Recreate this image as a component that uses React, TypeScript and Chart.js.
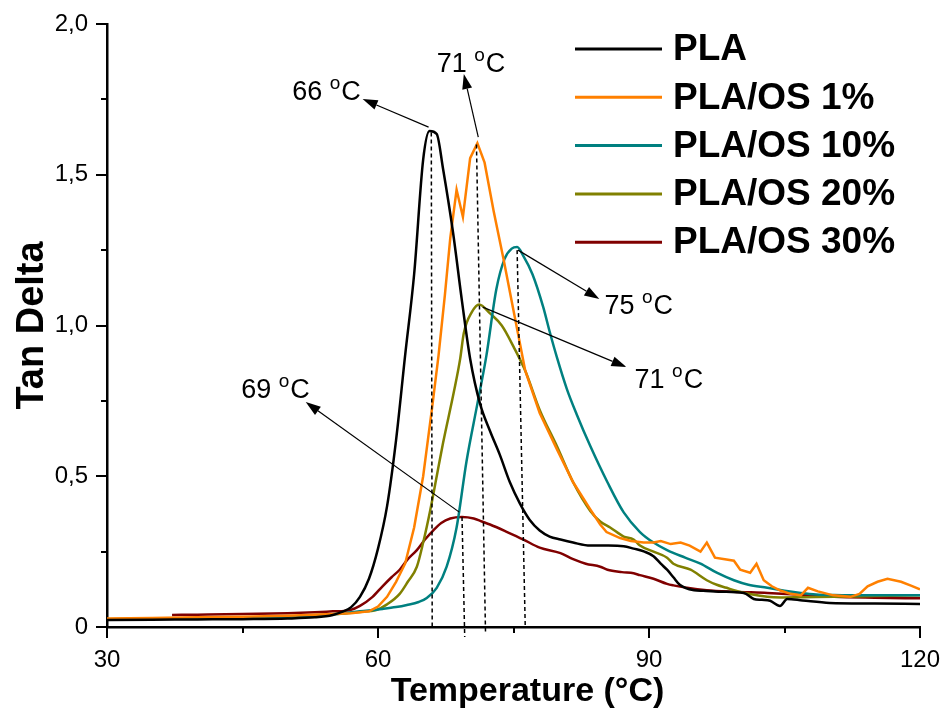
import React, { useEffect, useRef } from 'react';
import { Chart, registerables } from 'chart.js';

Chart.register(...registerables);

// ---------- DATA ----------
const SERIES_NAMES = ['PLA', 'PLA/OS 1%', 'PLA/OS 10%', 'PLA/OS 20%', 'PLA/OS 30%'];
const SERIES_COLORS = ['#000000', '#FF8000', '#008080', '#808000', '#800000'];

const plaT = [30, 35, 40, 45, 50, 53, 55, 56, 57, 58, 59, 60, 61, 62, 63, 64, 65, 65.7, 66.5, 67.2, 68.3, 69.3, 70.2, 71.3, 72.4, 73.5, 74.6, 75.7, 76.8, 77.9, 79, 80.2, 81.6, 83.5, 85.5, 87.2, 88.3, 89.5, 90.5, 91.3, 92, 92.7, 93.4, 94, 95, 96, 98, 100.5, 101.6, 102.5, 103.4, 104.5, 105.3, 107, 110, 115, 120];
const plaV = [0.023, 0.024, 0.025, 0.026, 0.028, 0.032, 0.04, 0.05, 0.065, 0.1, 0.16, 0.26, 0.4, 0.62, 0.9, 1.17, 1.55, 1.645, 1.635, 1.52, 1.31, 1.08, 0.89, 0.74, 0.65, 0.57, 0.48, 0.41, 0.355, 0.32, 0.3, 0.29, 0.28, 0.27, 0.27, 0.268, 0.26, 0.25, 0.235, 0.21, 0.19, 0.165, 0.14, 0.13, 0.122, 0.12, 0.117, 0.113, 0.093, 0.09, 0.087, 0.07, 0.093, 0.088, 0.08, 0.078, 0.076];

const os1T = [30, 35, 40, 45, 50, 55, 57, 58, 59, 60, 61, 62, 63, 64, 65, 66, 66.7, 67.4, 68, 68.7, 69.4, 70.2, 71, 71.8, 72.8, 73.9, 75, 76.3, 77.9, 79.8, 81.6, 83.5, 84.6, 85.3, 86.8, 88, 89.4, 90.5, 91.3, 92.4, 93.5, 94.5, 95.7, 96.4, 97.3, 98.4, 99.4, 100.1, 101.2, 101.9, 102.7, 103.6, 104.6, 105.7, 106.8, 107.6, 108.7, 110.4, 112.3, 113.3, 114.2, 115.3, 116.4, 117.9, 119, 120];
const os1V = [0.028, 0.03, 0.032, 0.034, 0.037, 0.043, 0.046, 0.049, 0.052, 0.068, 0.1, 0.15, 0.21, 0.33, 0.5, 0.73, 0.9, 1.1, 1.29, 1.45, 1.36, 1.555, 1.605, 1.54, 1.38, 1.22, 1.05, 0.85, 0.71, 0.59, 0.48, 0.39, 0.34, 0.315, 0.295, 0.285, 0.28, 0.28, 0.285, 0.275, 0.28, 0.27, 0.25, 0.28, 0.23, 0.225, 0.22, 0.19, 0.18, 0.21, 0.155, 0.135, 0.12, 0.11, 0.105, 0.13, 0.118, 0.105, 0.1, 0.11, 0.135, 0.15, 0.16, 0.15, 0.137, 0.125];

const os10T = [30, 35, 40, 45, 50, 55, 58, 60.5, 62, 63.2, 64.5, 65.4, 66.5, 67.6, 68.7, 69.8, 71, 72, 73.1, 74, 74.8, 75.4, 76.1, 77.1, 78.3, 79, 79.8, 80.9, 82, 83.5, 85.4, 87.2, 89, 90.5, 92, 94, 95.7, 97.5, 99.4, 101, 103.1, 105, 106.8, 108.5, 110.5, 115, 120];
const os10V = [0.025, 0.027, 0.029, 0.031, 0.034, 0.042, 0.052, 0.06, 0.066, 0.073, 0.083, 0.096, 0.13, 0.2, 0.33, 0.55, 0.74, 0.9, 1.12, 1.22, 1.255, 1.26, 1.23, 1.17, 1.06, 0.98, 0.895, 0.79, 0.705, 0.6, 0.48, 0.38, 0.315, 0.28, 0.255, 0.23, 0.21, 0.18, 0.155, 0.14, 0.13, 0.12, 0.113, 0.108, 0.106, 0.105, 0.105];

const os20T = [30, 35, 40, 45, 50, 55, 58, 59.8, 61, 62.4, 63.3, 64.3, 65, 65.8, 66.5, 67.2, 68.4, 69.1, 69.5, 70.4, 71.2, 72.4, 73.7, 75, 76.3, 77.9, 79.8, 81.6, 83.5, 84.6, 85.7, 87.2, 88.3, 89, 90.5, 92, 92.7, 94.6, 96.4, 97.5, 98.6, 99.4, 101, 103.1, 104.6, 107, 110.5, 115, 120];
const os20V = [0.026, 0.028, 0.03, 0.032, 0.035, 0.042, 0.05, 0.056, 0.075, 0.11, 0.15, 0.2, 0.28, 0.39, 0.5, 0.61, 0.78, 0.89, 0.975, 1.045, 1.07, 1.04, 1.0, 0.93, 0.85, 0.72, 0.6, 0.48, 0.385, 0.35, 0.33, 0.3, 0.29, 0.27, 0.25, 0.23, 0.21, 0.19, 0.155, 0.14, 0.13, 0.122, 0.11, 0.1, 0.098, 0.099, 0.1, 0.103, 0.105];

const os30T = [37.2, 40, 45, 50, 53, 55, 56.9, 58, 59.4, 60.5, 61.5, 62.4, 63.3, 64.3, 65.2, 66.1, 67, 68, 69.3, 70.6, 71.5, 72.4, 74.3, 76.1, 77.9, 80.2, 81.6, 83, 84.6, 85.4, 87, 88.3, 89, 90.5, 92, 92.7, 94.2, 96.4, 99.4, 103.1, 106.8, 110.5, 115, 120];
const os30V = [0.04, 0.041, 0.043, 0.046, 0.049, 0.052, 0.056, 0.07, 0.1, 0.135, 0.165, 0.19, 0.225, 0.255, 0.29, 0.32, 0.345, 0.36, 0.365, 0.36, 0.35, 0.34, 0.315, 0.29, 0.263, 0.245, 0.225, 0.21, 0.2, 0.19, 0.182, 0.178, 0.172, 0.16, 0.143, 0.138, 0.13, 0.122, 0.117, 0.113, 0.107, 0.1, 0.097, 0.095];

const SERIES_T = [plaT, os1T, os10T, os20T, os30T];
const SERIES_V = [plaV, os1V, os10V, os20V, os30V];
// orange trace is noisy (straight segments); the others are smooth
const SERIES_SMOOTH = [true, false, true, true, true];

const X_MIN = 30;
const X_MAX = 120;
const X_STEP = 15;
const X_LABEL_STEP = 30;
const Y_MIN = 0;
const Y_MAX = 2;
const Y_STEP = 0.25;
const Y_LABEL_STEP = 0.5;

const X_TITLE = 'Temperature (°C)';
const Y_TITLE = 'Tan Delta';

// Peak annotations (data coordinates): arrow start, arrow tip, label centre, label text
const PEAK_TEXT = ['66', '71', '75', '71', '69'];
const ARROW_FROM_T = [65.6, 71.1, 75.5, 71.6, 69.0];
const ARROW_FROM_V = [1.658, 1.625, 1.25, 1.061, 0.381];
const ARROW_TO_T = [58.3, 69.5, 84.5, 87.5, 52.0];
const ARROW_TO_V = [1.751, 1.834, 1.088, 0.862, 0.746];
const LABEL_T = [54.3, 70.3, 88.86, 92.2, 48.66];
const LABEL_V = [1.781, 1.874, 1.071, 0.826, 0.793];

// Dashed drop lines from peaks to the axis
const DROP_FROM_T = [65.9, 70.9, 75.4, 69.3];
const DROP_FROM_V = [1.64, 1.6, 1.25, 0.365];
const DROP_TO_T = [66.0, 71.9, 76.3, 69.6];
const DROP_TO_V = [0, -0.015, 0, -0.033];

const FONT = 'Arial, "Liberation Sans", sans-serif';

const fmtY = (v: number) => {
  if (Math.abs(v) < 1e-9) return '0';
  return v.toFixed(1).replace('.', ',');
};

const decorPlugin = {
  id: 'decor',
  afterDraw(chart: any) {
    const { ctx, chartArea, scales } = chart;
    const xs = scales.x;
    const ys = scales.y;
    const px = (t: number) => xs.getPixelForValue(t);
    const py = (v: number) => ys.getPixelForValue(v);
    ctx.save();

    // tick marks (outward)
    ctx.strokeStyle = '#000';
    ctx.lineWidth = 2;
    for (let v = Y_MIN; v <= Y_MAX + 1e-9; v += Y_STEP) {
      const major = Math.abs(v / Y_LABEL_STEP - Math.round(v / Y_LABEL_STEP)) < 1e-6;
      const y = Math.round(py(v));
      ctx.beginPath();
      ctx.moveTo(chartArea.left, y);
      ctx.lineTo(chartArea.left - (major ? 11 : 6), y);
      ctx.stroke();
    }
    for (let t = X_MIN; t <= X_MAX + 1e-9; t += X_STEP) {
      const major = Math.abs(t / X_LABEL_STEP - Math.round(t / X_LABEL_STEP)) < 1e-6;
      const x = Math.round(px(t));
      ctx.beginPath();
      ctx.moveTo(x, chartArea.bottom);
      ctx.lineTo(x, chartArea.bottom + (major ? 11 : 6));
      ctx.stroke();
    }

    // x axis title
    ctx.fillStyle = '#000';
    ctx.font = `bold 34px ${FONT}`;
    ctx.textAlign = 'center';
    ctx.textBaseline = 'middle';
    ctx.fillText(X_TITLE, (chartArea.left + chartArea.right) / 2 + 14, chartArea.bottom + 65);

    // dashed drop lines
    ctx.setLineDash([4, 3]);
    ctx.lineWidth = 1.5;
    for (let i = 0; i < DROP_FROM_T.length; i++) {
      ctx.beginPath();
      ctx.moveTo(px(DROP_FROM_T[i]), py(DROP_FROM_V[i]));
      ctx.lineTo(px(DROP_TO_T[i]), py(DROP_TO_V[i]));
      ctx.stroke();
    }
    ctx.setLineDash([]);

    // arrows
    ctx.lineWidth = 1.2;
    ctx.fillStyle = '#000';
    for (let i = 0; i < ARROW_FROM_T.length; i++) {
      const x1 = px(ARROW_FROM_T[i]);
      const y1 = py(ARROW_FROM_V[i]);
      const x2 = px(ARROW_TO_T[i]);
      const y2 = py(ARROW_TO_V[i]);
      const ang = Math.atan2(y2 - y1, x2 - x1);
      const hl = 15;
      const hw = 5;
      const bx = x2 - hl * Math.cos(ang);
      const by = y2 - hl * Math.sin(ang);
      ctx.beginPath();
      ctx.moveTo(x1, y1);
      ctx.lineTo(bx, by);
      ctx.stroke();
      ctx.beginPath();
      ctx.moveTo(x2, y2);
      ctx.lineTo(bx + hw * Math.sin(ang), by - hw * Math.cos(ang));
      ctx.lineTo(bx - hw * Math.sin(ang), by + hw * Math.cos(ang));
      ctx.closePath();
      ctx.fill();
    }

    // peak labels "NN °C" with superscript o
    const bigFont = `27px ${FONT}`;
    const smallFont = `19px ${FONT}`;
    ctx.textBaseline = 'alphabetic';
    ctx.textAlign = 'left';
    for (let i = 0; i < PEAK_TEXT.length; i++) {
      const a = PEAK_TEXT[i] + ' ';
      ctx.font = bigFont;
      const wa = ctx.measureText(a).width;
      const wc = ctx.measureText('C').width;
      ctx.font = smallFont;
      const wo = ctx.measureText('o').width + 1;
      const total = wa + wo + wc;
      const cx = px(LABEL_T[i]);
      const cy = py(LABEL_V[i]);
      const base = cy + 10;
      let x = cx - total / 2;
      ctx.font = bigFont;
      ctx.fillText(a, x, base);
      x += wa;
      ctx.font = smallFont;
      ctx.fillText('o', x, base - 11);
      x += wo;
      ctx.font = bigFont;
      ctx.fillText('C', x, base);
    }

    // legend
    const legX1 = 575;
    const legX2 = 662;
    const legTextX = 673;
    const legY0 = 49;
    const legDY = 48.3;
    ctx.font = `bold 37px ${FONT}`;
    ctx.textBaseline = 'middle';
    for (let i = 0; i < SERIES_NAMES.length; i++) {
      const y = legY0 + i * legDY;
      ctx.strokeStyle = SERIES_COLORS[i];
      ctx.lineWidth = 3;
      ctx.beginPath();
      ctx.moveTo(legX1, y);
      ctx.lineTo(legX2, y);
      ctx.stroke();
      ctx.fillStyle = '#000';
      ctx.fillText(SERIES_NAMES[i], legTextX, y + 1);
    }
    ctx.restore();
  },
};

export default function App() {
  const canvasRef = useRef<HTMLCanvasElement | null>(null);

  useEffect(() => {
    document.body.style.margin = '0';
    const canvas = canvasRef.current;
    if (!canvas) return;
    const datasets = SERIES_NAMES.map((name, i) => {
      const ds: any = {
        label: name,
        data: SERIES_T[i].map((t, j) => ({ x: t, y: SERIES_V[i][j] })),
        borderColor: SERIES_COLORS[i],
        backgroundColor: SERIES_COLORS[i],
        borderWidth: 2.5,
        pointRadius: 0,
        fill: false,
        tension: 0,
      };
      if (SERIES_SMOOTH[i]) ds.cubicInterpolationMode = 'monotone';
      return ds;
    });

    const chart = new Chart(canvas, {
      type: 'line',
      data: { datasets },
      options: {
        animation: false,
        responsive: false,
        devicePixelRatio: 1,
        layout: { padding: { left: 0, top: 24, right: 22, bottom: 0 } },
        plugins: {
          legend: { display: false },
          tooltip: { enabled: false },
        },
        scales: {
          x: {
            type: 'linear',
            min: X_MIN,
            max: X_MAX,
            afterFit: (s: any) => { s.height = 89; s.paddingLeft = 0; s.paddingRight = 0; },
            border: { display: true, color: '#000', width: 2.5 },
            grid: { display: true, drawOnChartArea: false, drawTicks: true, tickLength: 10, tickColor: 'rgba(0,0,0,0)' },
            ticks: {
              stepSize: X_STEP,
              autoSkip: false,
              maxRotation: 0,
              padding: 9,
              color: '#000',
              font: { family: FONT, size: 24 },
              callback: (v: any) => (Math.abs(v % X_LABEL_STEP) < 1e-6 ? String(v) : ''),
            },
            title: { display: false, text: X_TITLE },
          },
          y: {
            type: 'linear',
            min: Y_MIN,
            max: Y_MAX,
            afterFit: (s: any) => { s.width = 107; s.paddingTop = 0; s.paddingBottom = 0; },
            border: { display: true, color: '#000', width: 2.5 },
            grid: { display: true, drawOnChartArea: false, drawTicks: true, tickLength: 10, tickColor: 'rgba(0,0,0,0)' },
            ticks: {
              stepSize: Y_STEP,
              autoSkip: false,
              padding: 9,
              color: '#000',
              font: { family: FONT, size: 24 },
              callback: (v: any) => {
                const n = Number(v);
                return Math.abs(n / Y_LABEL_STEP - Math.round(n / Y_LABEL_STEP)) < 1e-6 ? fmtY(n) : '';
              },
            },
            title: {
              display: true,
              text: Y_TITLE,
              color: '#000',
              font: { family: FONT, size: 38, weight: 'bold' },
              padding: { top: 10, bottom: 0 },
            },
          },
        },
      },
      plugins: [decorPlugin],
    } as any);

    return () => chart.destroy();
  }, []);

  return (
    <div style={{ position: 'fixed', left: 0, top: 0, width: 942, height: 716, background: '#fff' }}>
      <canvas ref={canvasRef} width={942} height={716} style={{ width: 942, height: 716, display: 'block' }} />
    </div>
  );
}
